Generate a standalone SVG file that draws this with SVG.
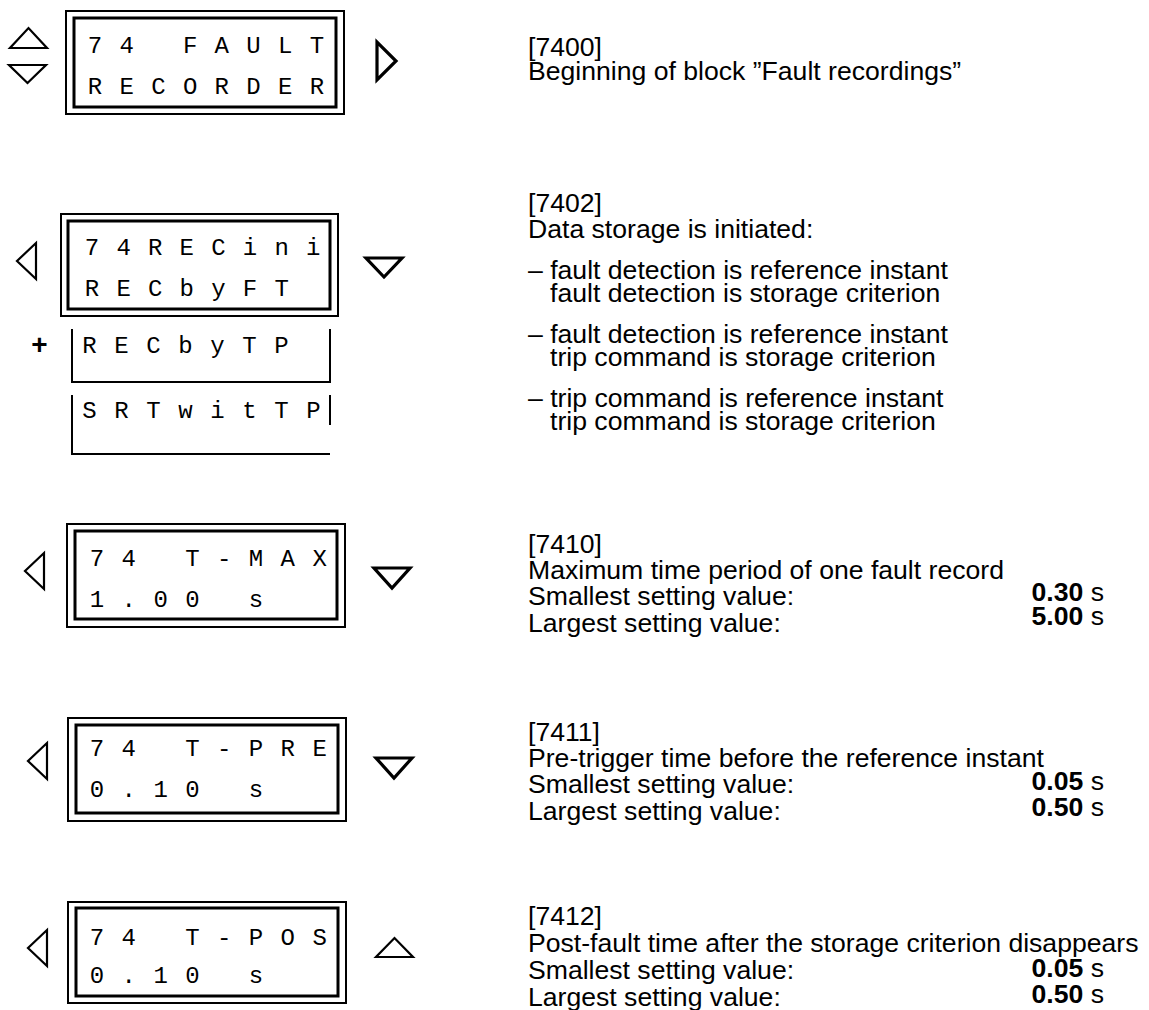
<svg xmlns="http://www.w3.org/2000/svg" width="1149" height="1010" viewBox="0 0 1149 1010">
<style>
.bg{fill:#fff}
.outer{fill:none;stroke:#000;stroke-width:2}
.inner{fill:none;stroke:#000;stroke-width:3}
.ln{fill:none;stroke:#000;stroke-width:2}
.disp{font-family:"Liberation Mono","DejaVu Sans Mono",monospace;font-size:24px;fill:#000;text-anchor:middle}
.txt{font-family:"Liberation Sans",Arial,sans-serif;font-size:26.6px;fill:#000}
.val{font-family:"Liberation Sans",Arial,sans-serif;font-size:26.6px;fill:#000;text-anchor:end}
.b{font-weight:bold}
.plus{font-family:"Liberation Sans",Arial,sans-serif;font-size:28px;font-weight:bold;fill:#000;text-anchor:middle}
.arr{fill:none;stroke:#000;stroke-width:2.2;stroke-linejoin:miter}
.arrb{fill:none;stroke:#000;stroke-width:3.2;stroke-linejoin:miter}
</style>
<rect class="bg" x="0" y="0" width="1149" height="1010"/>

<g id="connectors">
  <polygon class="arr" points="10,48 47,48 28.5,28"/>
  <polygon class="arr" points="9,65 46,65 27.5,83"/>
  <polygon class="arrb" points="377,42 377,80 396,61"/>
  <polygon class="arr" points="36,243 36,279 17,261"/>
  <polygon class="arrb" points="366,258 402,258 384,277"/>
  <polygon class="arr" points="44,553 44,589 25,571"/>
  <polygon class="arrb" points="374,568 410,568 392,588"/>
  <polygon class="arr" points="47,743 47,779 28,761"/>
  <polygon class="arrb" points="376,758 412,758 394,778"/>
  <polygon class="arr" points="47,930 47,966 28,948"/>
  <polygon class="arr" points="376,957 413,957 394.5,938"/>
</g>

<g id="node-7400">
  <rect class="outer" x="66" y="11" width="278" height="103"/>
  <rect class="inner" x="74" y="18" width="262" height="89"/>
  <text class="disp" x="95 126.7 158.4 190.1 221.8 253.5 285.2 316.9" y="53">74 FAULT</text>
  <text class="disp" x="95 126.7 158.4 190.1 221.8 253.5 285.2 316.9" y="94">RECORDER</text>
  <text class="txt" x="528" y="56">[7400]</text>
  <text class="txt" x="528" y="80">Beginning of block ”Fault recordings”</text>
</g>

<g id="node-7402">
  <rect class="outer" x="61" y="214" width="277" height="102"/>
  <rect class="inner" x="68" y="221" width="262" height="88"/>
  <text class="disp" x="92 123.6 155.2 186.8 218.4 250 281.6 313.2" y="255">74RECini</text>
  <text class="disp" x="92 123.6 155.2 186.8 218.4 250 281.6" y="296">RECbyFT</text>
  <text class="plus" x="39.5" y="354">+</text>
  <path class="ln" d="M72,329 V382 H330 V329"/>
  <text class="disp" x="89.5 121.5 153.5 185.5 217.5 249.5 281.5" y="353">RECbyTP</text>
  <path class="ln" d="M72,395 V454 H330 M330,395 V425"/>
  <text class="disp" x="89.5 121.5 153.5 185.5 217.5 249.5 281.5 313.5" y="418">SRTwitTP</text>
  <text class="txt" x="528" y="212">[7402]</text>
  <text class="txt" x="528" y="238">Data storage is initiated:</text>
  <text class="txt" x="528" y="279">– fault detection is reference instant</text>
  <text class="txt" x="550" y="302">fault detection is storage criterion</text>
  <text class="txt" x="528" y="343">– fault detection is reference instant</text>
  <text class="txt" x="550" y="366">trip command is storage criterion</text>
  <text class="txt" x="528" y="407">– trip command is reference instant</text>
  <text class="txt" x="550" y="430">trip command is storage criterion</text>
</g>

<g id="node-7410">
  <rect class="outer" x="67" y="524" width="278" height="103"/>
  <rect class="inner" x="75" y="531" width="262" height="88"/>
  <text class="disp" x="97 128.8 160.6 192.4 224.2 256 287.8 319.6" y="566">74 T-MAX</text>
  <text class="disp" x="97 128.8 160.6 192.4 224.2 256" y="607">1.00 s</text>
  <text class="txt" x="528" y="553">[7410]</text>
  <text class="txt" x="528" y="579">Maximum time period of one fault record</text>
  <text class="txt" x="528" y="605">Smallest setting value:</text>
  <text class="txt" x="528" y="632">Largest setting value:</text>
  <text class="val" x="1104" y="601"><tspan class="b">0.30</tspan> s</text>
  <text class="val" x="1104" y="625"><tspan class="b">5.00</tspan> s</text>
</g>

<g id="node-7411">
  <rect class="outer" x="68" y="718" width="278" height="103"/>
  <rect class="inner" x="76" y="725" width="262" height="88"/>
  <text class="disp" x="97 128.8 160.6 192.4 224.2 256 287.8 319.6" y="756">74 T-PRE</text>
  <text class="disp" x="97 128.8 160.6 192.4 224.2 256" y="797">0.10 s</text>
  <text class="txt" x="528" y="741">[7411]</text>
  <text class="txt" x="528" y="767">Pre-trigger time before the reference instant</text>
  <text class="txt" x="528" y="793">Smallest setting value:</text>
  <text class="txt" x="528" y="820">Largest setting value:</text>
  <text class="val" x="1104" y="790"><tspan class="b">0.05</tspan> s</text>
  <text class="val" x="1104" y="816"><tspan class="b">0.50</tspan> s</text>
</g>

<g id="node-7412">
  <rect class="outer" x="68" y="902" width="278" height="101"/>
  <rect class="inner" x="76" y="908" width="262" height="88"/>
  <text class="disp" x="97 128.8 160.6 192.4 224.2 256 287.8 319.6" y="945">74 T-POS</text>
  <text class="disp" x="97 128.8 160.6 192.4 224.2 256" y="983">0.10 s</text>
  <text class="txt" x="528" y="925">[7412]</text>
  <text class="txt" x="528" y="952">Post-fault time after the storage criterion disappears</text>
  <text class="txt" x="528" y="979">Smallest setting value:</text>
  <text class="txt" x="528" y="1006">Largest setting value:</text>
  <text class="val" x="1104" y="977"><tspan class="b">0.05</tspan> s</text>
  <text class="val" x="1104" y="1003"><tspan class="b">0.50</tspan> s</text>
</g>
</svg>
